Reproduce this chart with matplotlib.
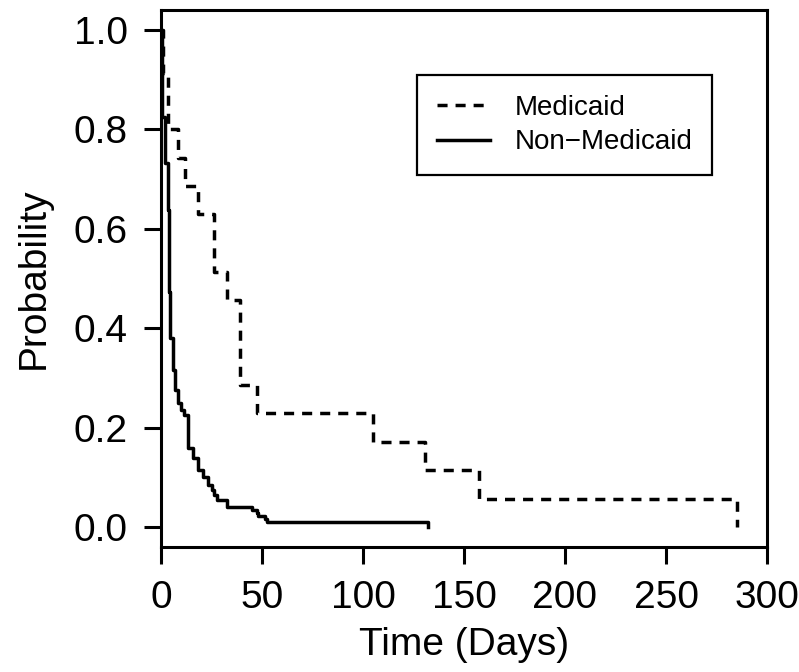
import matplotlib
matplotlib.use("Agg")
import matplotlib.pyplot as plt

plt.rcParams['font.family'] = ['Liberation Sans', 'DejaVu Sans']

# Kaplan-Meier style step data
medicaid_times = [0, 1.0, 3.5, 8.4, 11.9, 18.3, 26.2, 32.7, 39.0, 47.5, 104.8, 130.7, 157.6, 285.0]
medicaid_surv = [1.0, 0.914, 0.800, 0.743, 0.686, 0.629, 0.514, 0.457, 0.286, 0.229, 0.171, 0.114, 0.057, 0.0]

nonmed_times = [0, 0.7, 2.0, 3.3, 4.0, 4.6, 5.7, 7.0, 8.2, 9.8, 11.5, 13.5, 16.0, 18.5, 21.0,
                23.4, 25.0, 26.0, 27.6, 32.5, 44.9, 47.4, 48.2, 51.5, 52.7, 132.0]
nonmed_surv = [1.0, 0.825, 0.732, 0.638, 0.473, 0.380, 0.316, 0.276, 0.250, 0.235, 0.225, 0.159,
               0.139, 0.115, 0.100, 0.085, 0.075, 0.065, 0.055, 0.040, 0.034, 0.028, 0.022,
               0.016, 0.011, 0.0]

series_labels = ["Medicaid", "Non\u2212Medicaid"]
x_ticks = [0, 50, 100, 150, 200, 250, 300]
y_ticks = [0.0, 0.2, 0.4, 0.6, 0.8, 1.0]
y_tick_labels = ["0.0", "0.2", "0.4", "0.6", "0.8", "1.0"]

fig = plt.figure(figsize=(7.99, 6.72), dpi=100)
ax = fig.add_axes([161/799, 1 - 547/672, 606/799, 537/672])

ax.step(medicaid_times, medicaid_surv, where='post', color='black', lw=2.5,
        linestyle=(0, (2.9, 2.3)), label=series_labels[0])
ax.step(nonmed_times, nonmed_surv, where='post', color='black', lw=2.5,
        linestyle='-', label=series_labels[1])

ax.set_xlim(0, 300)
ax.set_ylim(-0.04, 1.04)
ax.set_xticks(x_ticks)
ax.set_xticklabels([str(t) for t in x_ticks])
ax.set_yticks(y_ticks)
ax.set_yticklabels(y_tick_labels)

for s in ax.spines.values():
    s.set_linewidth(2.2)
    s.set_color('black')

ax.tick_params(axis='both', direction='out', length=12, width=2.2,
               labelsize=28, pad=12, colors='black')

ax.set_xlabel("Time (Days)", fontsize=28, labelpad=8)
ax.set_ylabel("Probability", fontsize=28, labelpad=16)

leg = ax.legend(loc='upper left', bbox_to_anchor=(0.4224, 0.879, 0.4866, 0.0),
                mode='expand', fontsize=20, handlelength=1.9, handletextpad=0.9,
                borderpad=0.72, labelspacing=0.3, fancybox=False, framealpha=1,
                borderaxespad=0.0)
leg.get_frame().set_edgecolor('black')
leg.get_frame().set_linewidth(1.6)

fig.savefig("out.png", dpi=100)
